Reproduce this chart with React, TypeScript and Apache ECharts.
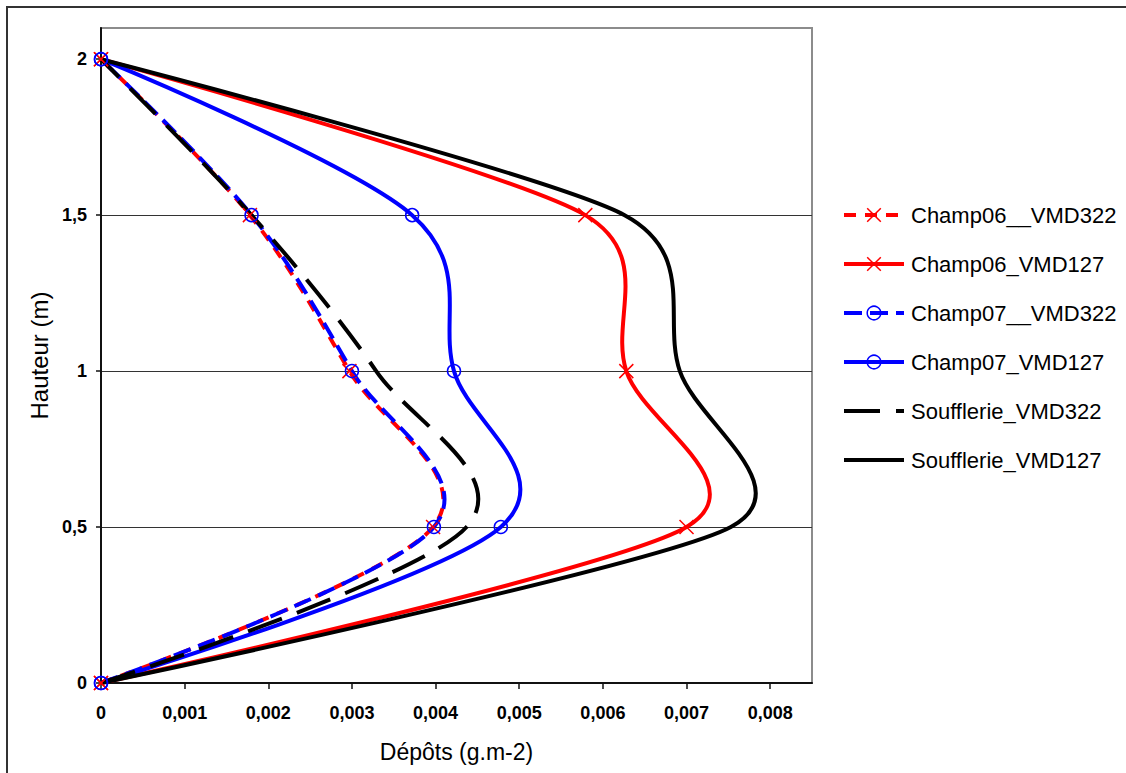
import { useEffect, useRef } from 'react';
import * as echarts from 'echarts';

const heights = [0, 0.5, 1, 1.5, 2];
const champ06Vmd322 = [0, 0.00397, 0.00297, 0.00178, 0];
const champ06Vmd127 = [0, 0.007, 0.00628, 0.00579, 0];
const champ07Vmd322 = [0, 0.00398, 0.003, 0.0018, 0];
const champ07Vmd127 = [0, 0.00478, 0.00422, 0.00372, 0];
const souffVmd322 = [0, 0.00437, 0.00329, 0.0018, 0];
const souffVmd127 = [0, 0.00753, 0.00692, 0.00626, 0];

const seriesNames = [
  'Champ06__VMD322',
  'Champ06_VMD127',
  'Champ07__VMD322',
  'Champ07_VMD127',
  'Soufflerie_VMD322',
  'Soufflerie_VMD127',
];

const xTicks = [0, 0.001, 0.002, 0.003, 0.004, 0.005, 0.006, 0.007, 0.008];
const yTicks = [0, 0.5, 1, 1.5, 2];
const xTitle = 'Dépôts (g.m-2)';
const yTitle = 'Hauteur (m)';

const FONT = "'Liberation Sans', Arial, Helvetica, sans-serif";
const X_SYMBOL = 'path://M0,0L10,10M10,0L0,10';
const LINE_W = 4;

const pairs = (vals: number[]) => vals.map((v, i) => [v, heights[i]]);
const fmt = (v: number) => String(+v.toFixed(4)).replace('.', ',');

type Spec = { name: string; vals: number[]; color: string; dash: any; symbol: string };

const specs: Spec[] = [
  { name: seriesNames[0], vals: champ06Vmd322, color: '#ff0000', dash: [12, 9], symbol: X_SYMBOL },
  { name: seriesNames[1], vals: champ06Vmd127, color: '#ff0000', dash: 'solid', symbol: X_SYMBOL },
  { name: seriesNames[2], vals: champ07Vmd322, color: '#0000ff', dash: [18, 8], symbol: 'circle' },
  { name: seriesNames[3], vals: champ07Vmd127, color: '#0000ff', dash: 'solid', symbol: 'circle' },
  { name: seriesNames[4], vals: souffVmd322, color: '#000000', dash: [36, 16], symbol: 'none' },
  { name: seriesNames[5], vals: souffVmd127, color: '#000000', dash: 'solid', symbol: 'none' },
];

const markerStyle = (s: Spec) => {
  if (s.symbol === 'none') return { color: s.color, opacity: 0 };
  if (s.symbol === 'circle')
    return { color: 'rgba(0,0,0,0)', borderColor: s.color, borderWidth: 1.5, opacity: 1 };
  return { color: s.color, borderColor: s.color, borderWidth: 1.5, opacity: 1 };
};

const dist = (a: number[], b: number[]) => Math.hypot(a[0] - b[0], a[1] - b[1]);

// Excel-style smoothing: Bezier tangent (P[i+1]-P[i-1])/6, limited to half the shorter adjacent segment
const tangent = (p0: number[], p1: number[], p2: number[]) => {
  const d01 = dist(p0, p1);
  const d12 = dist(p1, p2);
  const d02 = dist(p0, p2);
  if (d02 === 0) return [0, 0];
  let f = 1 / 6;
  if (!(d02 / 6 < d12 / 2 && d02 / 6 < d01 / 2)) f = Math.min(d01, d12) / (2 * d02);
  return [(p2[0] - p0[0]) * f, (p2[1] - p0[1]) * f];
};

const curveSeries = (s: Spec) => ({
  type: 'custom',
  data: pairs(s.vals),
  encode: { x: 0, y: 1 },
  z: 2,
  silent: true,
  renderItem: (params: any, api: any) => {
    if (params.dataIndex !== 0) return null;
    const pts = s.vals.map((v, i) => api.coord([v, heights[i]]));
    const n = pts.length;
    const tans = pts.map((p, i) => tangent(pts[Math.max(i - 1, 0)], p, pts[Math.min(i + 1, n - 1)]));
    let d = `M${pts[0][0]},${pts[0][1]}`;
    for (let i = 0; i < n - 1; i++) {
      const p1 = pts[i];
      const p2 = pts[i + 1];
      const c1x = p1[0] + tans[i][0];
      const c1y = p1[1] + tans[i][1];
      const c2x = p2[0] - tans[i + 1][0];
      const c2y = p2[1] - tans[i + 1][1];
      d += ` C${c1x},${c1y} ${c2x},${c2y} ${p2[0]},${p2[1]}`;
    }
    return {
      type: 'path',
      shape: { pathData: d },
      style: {
        fill: 'none',
        stroke: s.color,
        lineWidth: LINE_W,
        lineDash: s.dash === 'solid' ? null : s.dash,
        lineCap: 'butt',
        lineJoin: 'round',
      },
    };
  },
});

const markerSeries = (s: Spec) => ({
  type: 'line',
  name: s.name,
  data: pairs(s.vals),
  symbol: s.symbol === 'none' ? 'circle' : s.symbol,
  symbolSize: s.symbol === 'circle' ? 13 : 14,
  showSymbol: s.symbol !== 'none',
  lineStyle: { color: s.color, width: LINE_W, type: s.dash, opacity: 0 },
  itemStyle: markerStyle(s),
  emphasis: { disabled: true },
  z: 3,
});

export default function App() {
  const ref = useRef<HTMLDivElement>(null);
  useEffect(() => {
    if (!ref.current) return;
    const chart = echarts.init(ref.current, null, { renderer: 'svg' });
    chart.setOption({
      animation: false,
      backgroundColor: '#ffffff',
      textStyle: { fontFamily: FONT },
      grid: {
        left: 101,
        top: 28,
        right: 314,
        bottom: 90,
        show: true,
        borderColor: '#8c8c8c',
        borderWidth: 2,
        backgroundColor: '#ffffff',
      },
      legend: {
        orient: 'vertical',
        left: 837,
        top: 198,
        itemWidth: 60,
        itemHeight: 17,
        itemGap: 25,
        data: specs.map((s) => ({
          name: s.name,
          itemStyle: markerStyle(s),
          lineStyle: { color: s.color, width: LINE_W, type: s.dash, opacity: 1 },
        })),
        textStyle: {
          fontFamily: FONT,
          fontSize: 22,
          color: '#000',
          lineHeight: 24,
          padding: [0, 0, 0, 2],
        },
      },
      xAxis: {
        type: 'value',
        min: 0,
        max: 0.0085,
        interval: 0.001,
        name: xTitle,
        nameLocation: 'middle',
        nameGap: 57,
        nameTextStyle: { fontFamily: FONT, fontSize: 23, color: '#000' },
        axisLine: { show: true, onZero: false, lineStyle: { color: '#111', width: 2 } },
        axisTick: { show: true, length: 6, lineStyle: { color: '#111', width: 1.5 }, customValues: xTicks },
        axisLabel: {
          customValues: xTicks,
          margin: 21,
          fontFamily: FONT,
          fontSize: 18,
          fontWeight: 'bold',
          color: '#000',
          formatter: (v: number) => fmt(v),
        },
        splitLine: { show: false },
      },
      yAxis: {
        type: 'value',
        min: 0,
        max: 2.1,
        interval: 0.5,
        name: yTitle,
        nameLocation: 'middle',
        nameGap: 46,
        nameRotate: 90,
        nameTextStyle: { fontFamily: FONT, fontSize: 24, color: '#000' },
        axisLine: { show: true, onZero: false, lineStyle: { color: '#111', width: 2 } },
        axisTick: { show: true, length: 5, lineStyle: { color: '#111', width: 1.5 }, customValues: yTicks },
        axisLabel: {
          customValues: yTicks,
          margin: 14,
          fontFamily: FONT,
          fontSize: 18,
          fontWeight: 'bold',
          color: '#000',
          formatter: (v: number) => fmt(v),
        },
        splitLine: {
          show: true,
          showMinLine: false,
          showMaxLine: false,
          lineStyle: { color: '#333', width: 1 },
        },
      },
      graphic: [
        {
          type: 'rect',
          shape: { x: 7, y: 7, width: 1135, height: 790 },
          style: { fill: 'none', stroke: '#333', lineWidth: 2 },
          silent: true,
          z: 100,
        },
      ],
      series: [...specs.map(curveSeries), ...specs.map(markerSeries)],
    });
    return () => chart.dispose();
  }, []);
  return (
    <div
      ref={ref}
      style={{ position: 'fixed', left: 0, top: 0, width: 1126, height: 773, background: '#fff' }}
    />
  );
}
